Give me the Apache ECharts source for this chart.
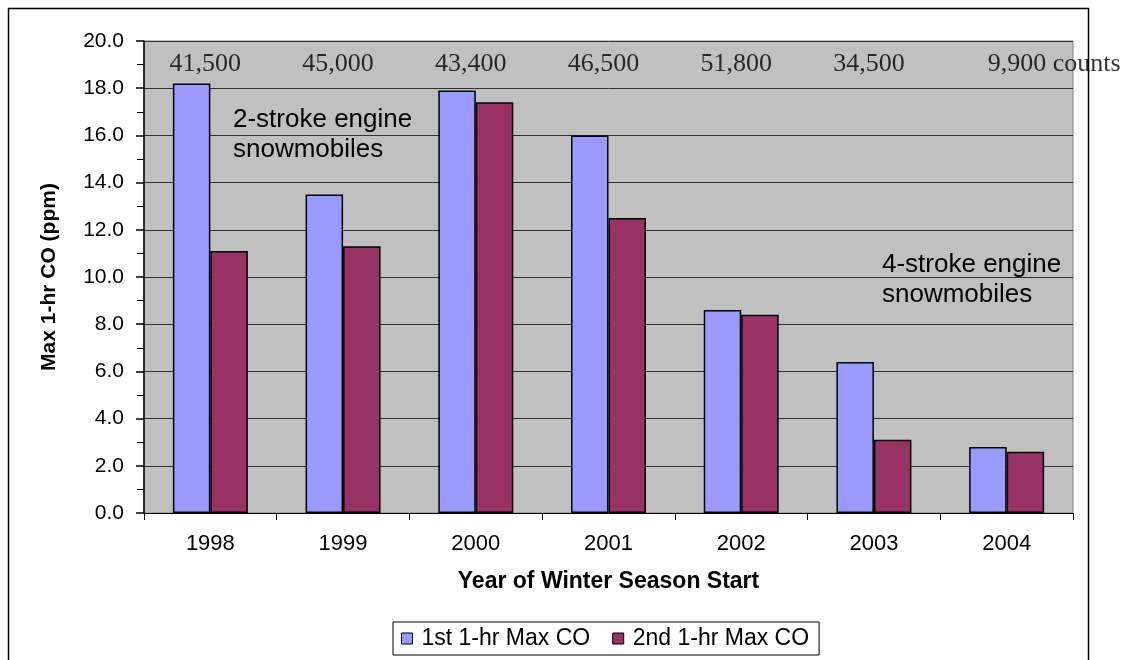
<!DOCTYPE html>
<html>
<head>
<meta charset="utf-8">
<script src="https://cdn.jsdelivr.net/npm/echarts@6/dist/echarts.min.js"></script>
<style>
html,body{margin:0;padding:0;background:#fff;}
#chart{width:1126px;height:660px;}
</style>
</head>
<body>
<div id="chart"></div>
<script>
var categories = ['1998', '1999', '2000', '2001', '2002', '2003', '2004'];
var firstMaxCO = [18.2, 13.5, 17.9, 16.0, 8.6, 6.4, 2.8];
var secondMaxCO = [11.1, 11.3, 17.4, 12.5, 8.4, 3.1, 2.6];
var countLabels = ['41,500', '45,000', '43,400', '46,500', '51,800', '34,500', '9,900 counts'];
var seriesNames = ['1st 1-hr Max CO', '2nd 1-hr Max CO'];
var yTicks = [0, 2, 4, 6, 8, 10, 12, 14, 16, 18, 20];

var SANS = '"Liberation Sans", Arial, sans-serif';
var SERIF = '"Liberation Serif", "Times New Roman", serif';
var COUNT_ROW = 19.0;

var chart = echarts.init(document.getElementById('chart'), null, {renderer: 'canvas'});

var countData = countLabels.map(function (t, i) {
  var item = {value: [categories[i], COUNT_ROW], name: t};
  if (i === countLabels.length - 1) {
    item.label = {position: 'right', distance: 0, offset: [-19, 0]};
  }
  return item;
});

var option = {
  animation: false,
  backgroundColor: '#ffffff',
  grid: {
    left: 144, top: 41, right: 53, bottom: 147,
    show: true, backgroundColor: '#C0C0C0', borderColor: '#808080', borderWidth: 1,
    containLabel: false
  },
  legend: {
    data: seriesNames,
    left: 393, top: 622,
    orient: 'horizontal',
    itemWidth: 11, itemHeight: 11, itemGap: 22,
    icon: 'rect',
    padding: [5, 10, 5, 8],
    borderColor: '#000', borderWidth: 1,
    backgroundColor: '#fff',
    textStyle: {fontFamily: SANS, fontSize: 23, color: '#000', padding: [0, 0, 0, 4]},
    itemStyle: {borderColor: '#000', borderWidth: 1}
  },
  xAxis: {
    type: 'category',
    data: categories,
    name: 'Year of Winter Season Start',
    nameLocation: 'middle',
    nameGap: 57,
    nameTextStyle: {fontFamily: SANS, fontSize: 23, fontWeight: 'bold', color: '#000'},
    axisLine: {show: true, lineStyle: {color: '#000', width: 1}},
    axisTick: {show: true, alignWithLabel: false, length: 7, lineStyle: {color: '#000'}},
    axisLabel: {fontFamily: SANS, fontSize: 22, color: '#000', margin: 20},
    splitLine: {show: false}
  },
  yAxis: {
    type: 'value',
    min: yTicks[0], max: yTicks[yTicks.length - 1], interval: 2,
    name: 'Max 1-hr CO (ppm)',
    nameLocation: 'middle',
    nameGap: 84,
    nameRotate: 90,
    nameTextStyle: {fontFamily: SANS, fontSize: 21, fontWeight: 'bold', color: '#000'},
    axisLine: {show: true, lineStyle: {color: '#000', width: 1.5}},
    axisTick: {show: true, inside: false, length: 8, lineStyle: {color: '#000', width: 1.5}},
    minorTick: {show: true, splitNumber: 2, length: 7, lineStyle: {color: '#000', width: 1}},
    axisLabel: {fontFamily: SANS, fontSize: 21, color: '#000', margin: 20,
      formatter: function (v) { return v.toFixed(1); }},
    splitLine: {show: true, lineStyle: {color: '#303030', width: 1}}
  },
  series: [
    {
      name: seriesNames[0], type: 'bar', data: firstMaxCO,
      barGap: '0%', barCategoryGap: '43.5%',
      itemStyle: {color: '#9999FF', borderColor: '#000', borderWidth: 1.5},
      z: 3
    },
    {
      name: seriesNames[1], type: 'bar', data: secondMaxCO,
      barGap: '0%', barCategoryGap: '43.5%',
      itemStyle: {color: '#993366', borderColor: '#000', borderWidth: 1.5},
      z: 3
    },
    {
      name: 'counts', type: 'scatter', data: countData,
      symbolSize: 0, silent: true, z: 5,
      label: {
        show: true, position: 'inside', offset: [-5, 0],
        fontFamily: SERIF, fontSize: 26, color: '#000',
        formatter: function (p) { return p.name; }
      }
    }
  ],
  graphic: [
    {
      type: 'rect', silent: true, z: 100,
      shape: {x: 8.5, y: 8.5, width: 1080, height: 700},
      style: {fill: 'none', stroke: '#000', lineWidth: 1.5}
    },
    {
      type: 'text', left: 233, top: 105, z: 50, silent: true,
      style: {text: '2-stroke engine\nsnowmobiles', font: '26px ' + SANS, fill: '#000', lineHeight: 30}
    },
    {
      type: 'text', left: 882, top: 250, z: 50, silent: true,
      style: {text: '4-stroke engine\nsnowmobiles', font: '26px ' + SANS, fill: '#000', lineHeight: 30}
    }
  ]
};

chart.setOption(option);
</script>
</body>
</html>
